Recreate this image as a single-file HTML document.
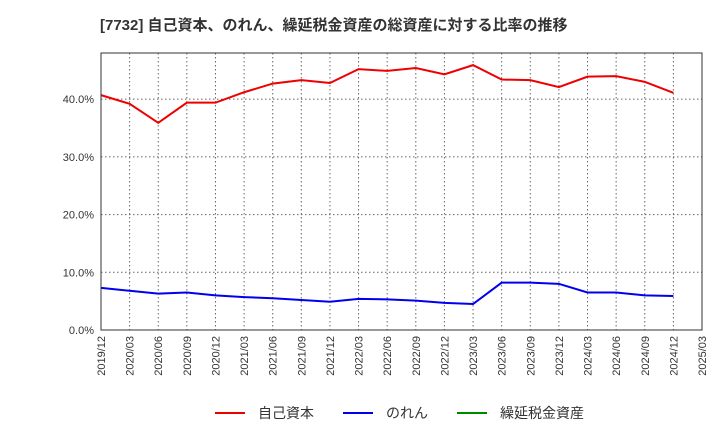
<!DOCTYPE html>
<html><head><meta charset="utf-8"><style>
body{margin:0;background:#fff;width:720px;height:440px;overflow:hidden}
svg text{font-family:"Liberation Sans","Noto Sans CJK JP",sans-serif}
</style></head><body>
<svg id="c" width="720" height="440">
<text x="100" y="30" font-size="15" font-weight="bold" fill="#333">[7732]  自己資本、のれん、繰延税金資産の総資産に対する比率の推移</text>
<g id="grid"></g><g id="series"></g><g id="axes"></g>
<g>
<line x1="215" y1="413" x2="245" y2="413" stroke="#e00" stroke-width="2"/>
<text x="258" y="418" font-size="14" fill="#333">自己資本</text>
<line x1="343" y1="413" x2="373" y2="413" stroke="#00e" stroke-width="2"/>
<text x="386" y="418" font-size="14" fill="#333">のれん</text>
<line x1="457" y1="413" x2="487" y2="413" stroke="#080" stroke-width="2"/>
<text x="500" y="418" font-size="14" fill="#333">繰延税金資産</text>
</g>
</svg>
<script>
const tickLabels=["2019/12","2020/03","2020/06","2020/09","2020/12","2021/03","2021/06","2021/09","2021/12","2022/03","2022/06","2022/09","2022/12","2023/03","2023/06","2023/09","2023/12","2024/03","2024/06","2024/09","2024/12","2025/03"];
const yTicks=[0,10,20,30,40];
const equity=[40.7,39.2,35.9,39.4,39.4,41.2,42.7,43.3,42.8,45.2,44.9,45.4,44.3,45.9,43.4,43.3,42.1,43.9,44.0,43.0,41.1];
const goodwill=[7.3,6.8,6.3,6.5,6.0,5.7,5.5,5.2,4.9,5.4,5.3,5.1,4.7,4.5,8.2,8.2,8.0,6.5,6.5,6.0,5.9];
const L=101,R=702,T=53,B=330,YMAX=48;
const xs=i=>L+(R-L)*i/(tickLabels.length-1);
const ys=v=>B-(B-T)*v/YMAX;
const NS="http://www.w3.org/2000/svg";
function mk(p,t,a){const e=document.createElementNS(NS,t);for(const k in a)e.setAttribute(k,a[k]);p.appendChild(e);return e;}
const grid=document.getElementById('grid'),axes=document.getElementById('axes'),ser=document.getElementById('series');
tickLabels.forEach((lab,i)=>{const x=xs(i);
 const g=mk(grid,'line',{x1:x,x2:x,y1:T,y2:B,stroke:'#666','stroke-dasharray':'1.5,2.5','stroke-width':1});
 
 
 const t=mk(axes,'text',{x:0,y:0,'font-size':11,fill:'#333','text-anchor':'end',transform:`translate(${x+4},${B+6}) rotate(-90)`});
 t.textContent=lab;
 
 
});
yTicks.forEach(v=>{const y=ys(v);
 const g=mk(grid,'line',{x1:L,x2:R,y1:y,y2:y,stroke:'#666','stroke-dasharray':'1.5,2.5','stroke-width':1});
 
 
 const t=mk(axes,'text',{x:L-7,y:y+4,'font-size':11,fill:'#333','text-anchor':'end'});
 t.textContent=v.toFixed(1)+'%';
 
 
});
const fr=mk(axes,'rect',{x:L,y:T,width:R-L,height:B-T,fill:'none',stroke:'#333','stroke-width':1});


function line(d,c,name){const p=mk(ser,'polyline',{points:d.map((v,i)=>xs(i)+','+ys(v)).join(' '),fill:'none',stroke:c,'stroke-width':2});
 
 }
line(equity,'#e00','equity-ratio-line');
line(goodwill,'#00e','goodwill-ratio-line');
</script>
</body></html>
